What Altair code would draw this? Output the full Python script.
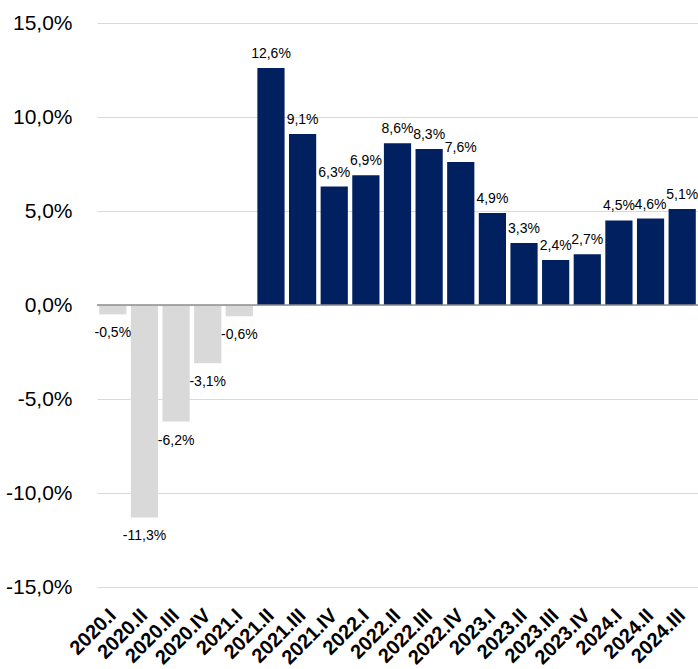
import altair as alt
import pandas as pd

quarters = ["2020.I", "2020.II", "2020.III", "2020.IV", "2021.I", "2021.II", "2021.III",
            "2021.IV", "2022.I", "2022.II", "2022.III", "2022.IV", "2023.I", "2023.II",
            "2023.III", "2023.IV", "2024.I", "2024.II", "2024.III"]
values = [-0.5, -11.3, -6.2, -3.1, -0.6, 12.6, 9.1, 6.3, 6.9, 8.6, 8.3, 7.6,
          4.9, 3.3, 2.4, 2.7, 4.5, 4.6, 5.1]
y_ticks = [-15, -10, -5, 0, 5, 10, 15]

df = pd.DataFrame({"q": quarters, "v": values})
df["label"] = [f"{v:.1f}".replace(".", ",") + "%" for v in values]

FONT = "Liberation Sans"

x = alt.X("q:N", sort=quarters, title=None,
          scale=alt.Scale(paddingInner=0.14, paddingOuter=0.07),
          axis=alt.Axis(labelAngle=-45, labelAlign="right", labelBaseline="middle",
                        labelFontSize=20, labelFontWeight="bold", labelFont=FONT,
                        labelColor="black", labelPadding=25, domain=False, ticks=False,
                        labelOverlap=False))
y = alt.Y("v:Q", title=None,
          scale=alt.Scale(domain=[-15, 15], nice=False),
          axis=alt.Axis(values=y_ticks,
                        labelExpr="replace(replace(format(datum.value, '.1f'), '.', ','), '\u2212', '-') + '%'",
                        labelFontSize=21, labelFont=FONT, labelColor="black", labelPadding=25,
                        domain=False, ticks=False, grid=True, gridColor="#d9d9d9", gridWidth=1))

base = alt.Chart(df)

bars = base.mark_bar().encode(
    x=x, y=y,
    color=alt.condition(alt.datum.v < 0, alt.value("#d9d9d9"), alt.value("#002060")),
)

zero = alt.Chart(pd.DataFrame({"z": [0]})).mark_rule(color="#8c8c8c", strokeWidth=1.5).encode(y="z:Q")

labels_pos = base.transform_filter(alt.datum.v >= 0).mark_text(
    dy=-14, fontSize=14, font=FONT, color="black", baseline="middle"
).encode(x=alt.X("q:N", sort=quarters), y="v:Q", text="label:N")

labels_neg = base.transform_filter(alt.datum.v < 0).mark_text(
    dy=19, fontSize=14, font=FONT, color="black", baseline="middle"
).encode(x=alt.X("q:N", sort=quarters), y="v:Q", text="label:N")

chart = alt.layer(bars, zero, labels_pos, labels_neg).properties(
    width=601, height=564,
    autosize=alt.AutoSizeParams(type="none"),
    padding={"left": 97, "top": 23, "right": 0, "bottom": 82},
).configure(background="white").configure_view(stroke=None)

chart.save("out.html", embed_options={"renderer": "svg", "actions": False})
